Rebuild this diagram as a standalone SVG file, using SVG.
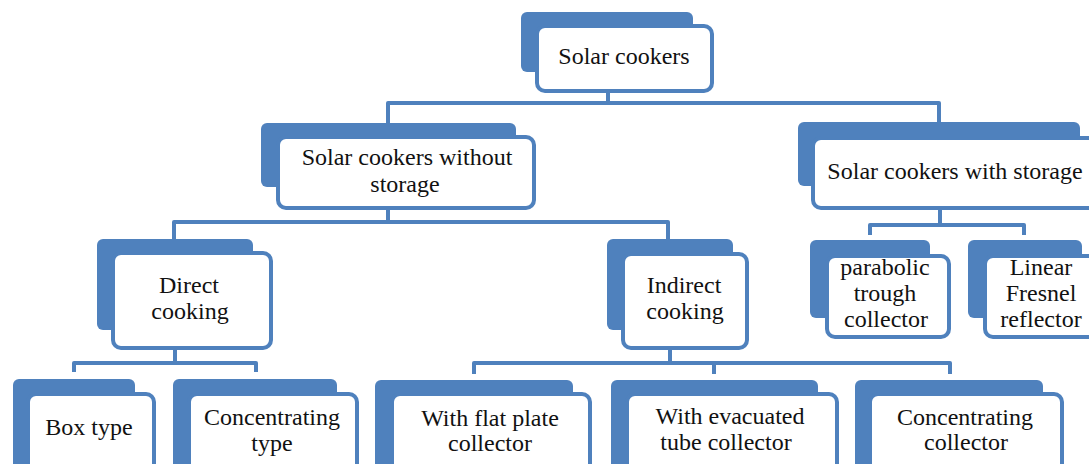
<svg xmlns="http://www.w3.org/2000/svg" width="1089" height="464" viewBox="0 0 1089 464">
<style>
.back{fill:#4F81BD;}
.front{fill:#FFFFFF;stroke:#4F81BD;stroke-width:4;}
.t{font-family:"Liberation Serif","Times New Roman",serif;font-size:24px;fill:#111111;text-anchor:middle;}
.c{fill:none;stroke:#4F81BD;stroke-width:4;stroke-linejoin:round;}
</style>
<rect width="1089" height="464" fill="#FFFFFF"/>
<g id="connectors">
<path class="c" d="M608 92 V103 M388 123 V103 H939 V122"/>
<path class="c" d="M388 209 V222 M174 240 V222 H668 V240"/>
<path class="c" d="M940 209 V225 M870 235 V225 H1024 V235"/>
<path class="c" d="M175 350 V363 M74 372 V363 H256 V372"/>
<path class="c" d="M670 350 V363 M474 374 V363 H950 V374 M714 363 V374"/>
</g>
<g id="solar-cookers">
<rect class="back" x="521" y="12" width="172" height="60" rx="6"/>
<rect class="front" x="537" y="26" width="175" height="65" rx="8"/>
<text class="t" x="624" y="64">Solar cookers</text>
</g>
<g id="without-storage">
<rect class="back" x="261" y="123" width="255" height="64" rx="6"/>
<rect class="front" x="278" y="137" width="256" height="71" rx="8"/>
<text class="t" x="407" y="165">Solar cookers without</text>
<text class="t" x="405" y="192">storage</text>
</g>
<g id="with-storage">
<rect class="back" x="798" y="122" width="282" height="64" rx="6"/>
<rect class="front" x="813" y="138" width="290" height="70" rx="8"/>
<text class="t" x="955" y="179">Solar cookers with storage</text>
</g>
<g id="direct-cooking">
<rect class="back" x="97" y="239" width="156" height="91" rx="6"/>
<rect class="front" x="113" y="253" width="158" height="95" rx="8"/>
<text class="t" x="189" y="293">Direct</text>
<text class="t" x="190" y="319">cooking</text>
</g>
<g id="indirect-cooking">
<rect class="back" x="607" y="239" width="126" height="91" rx="6"/>
<rect class="front" x="623" y="254" width="124" height="94" rx="8"/>
<text class="t" x="684" y="293">Indirect</text>
<text class="t" x="685" y="319">cooking</text>
</g>
<g id="parabolic-trough">
<rect class="back" x="810" y="240" width="120" height="78" rx="6"/>
<rect class="front" x="827" y="256" width="122" height="81" rx="8"/>
<text class="t" x="885" y="275">parabolic</text>
<text class="t" x="885" y="301">trough</text>
<text class="t" x="886" y="327">collector</text>
</g>
<g id="linear-fresnel">
<rect class="back" x="968" y="240" width="114" height="78" rx="6"/>
<rect class="front" x="985" y="256" width="112" height="81" rx="8"/>
<text class="t" x="1041" y="275">Linear</text>
<text class="t" x="1041" y="301">Fresnel</text>
<text class="t" x="1041" y="327">reflector</text>
</g>
<g id="box-type">
<rect class="back" x="13" y="379" width="122" height="90" rx="6"/>
<rect class="front" x="28" y="394" width="126" height="80" rx="8"/>
<text class="t" x="89" y="435">Box type</text>
</g>
<g id="concentrating-type">
<rect class="back" x="173" y="379" width="164" height="90" rx="6"/>
<rect class="front" x="189" y="394" width="168" height="80" rx="8"/>
<text class="t" x="272" y="425">Concentrating</text>
<text class="t" x="272" y="451">type</text>
</g>
<g id="flat-plate">
<rect class="back" x="375" y="380" width="198" height="90" rx="6"/>
<rect class="front" x="392" y="394" width="198" height="80" rx="8"/>
<text class="t" x="490" y="426">With flat plate</text>
<text class="t" x="490" y="451">collector</text>
</g>
<g id="evacuated-tube">
<rect class="back" x="611" y="380" width="207" height="90" rx="6"/>
<rect class="front" x="627" y="394" width="210" height="80" rx="8"/>
<text class="t" x="730" y="424">With evacuated</text>
<text class="t" x="726" y="450">tube collector</text>
</g>
<g id="concentrating-collector">
<rect class="back" x="855" y="380" width="188" height="90" rx="6"/>
<rect class="front" x="870" y="394" width="192" height="80" rx="8"/>
<text class="t" x="965" y="425">Concentrating</text>
<text class="t" x="966" y="450">collector</text>
</g>
</svg>
